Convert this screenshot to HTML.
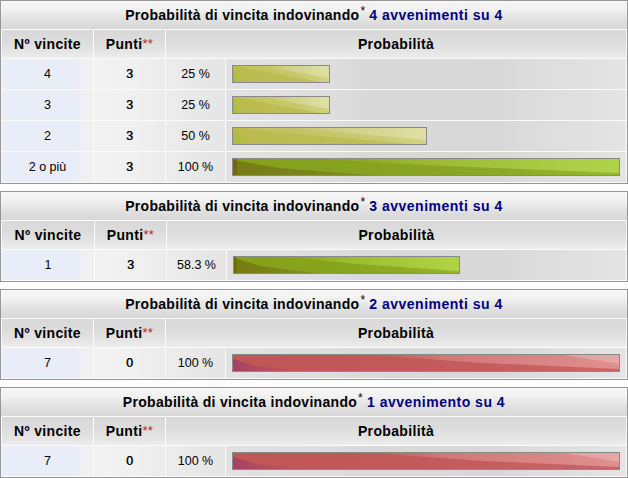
<!DOCTYPE html>
<html><head><meta charset="utf-8"><style>
html,body{margin:0;padding:0;}
body{width:628px;height:478px;position:relative;overflow:hidden;background:#fdfdfd;font-family:"Liberation Sans",sans-serif;}
.tb{position:absolute;left:0;width:626px;border:1px solid #969696;background:#fbfbfb;}
.h1{position:absolute;left:1px;width:626px;height:28px;line-height:29px;text-align:center;font-weight:bold;font-size:14px;color:#000;
  background:linear-gradient(180deg,#fafafa 0px,#f5f5f5 1px,#f2f2f2 8px,#e6e6e6 15px,#dddddd 22px,#d9d9d9 27px,#d6d6d6 28px);letter-spacing:0.3px;}
.h1 sup{font-size:12px;vertical-align:baseline;position:relative;top:-5px;line-height:10px;font-weight:normal;letter-spacing:0;margin-left:1px}
.hl{position:absolute;width:1px;height:28px;background:linear-gradient(180deg,rgba(255,255,255,0.9) 0px,rgba(255,255,255,0.6) 8px,rgba(255,255,255,0) 20px);}
.nv{color:#000080;letter-spacing:0.5px}
.h2{position:absolute;height:28px;line-height:28px;text-align:center;font-weight:bold;font-size:14px;color:#000;
  background:linear-gradient(180deg,#d8d8d8 0px,#dcdcdc 10px,#e3e3e3 20px,#ededed 28px);letter-spacing:0.35px;}
.ast{color:#b02828;font-weight:normal;letter-spacing:0.3px;font-size:13px;position:relative;top:-1px}
.d{position:absolute;height:30px;line-height:30px;text-align:center;font-size:12.5px;color:#000;}
.d b{font-weight:normal;text-shadow:0.5px 0 0 rgba(0,0,0,0.85)}
.c1{background:linear-gradient(90deg,#e9edf8 0px,#e9edf8 73px,#edeff5 77px,#f0f0f1 82px,#f0f0f0 100%);}
.c2{background:linear-gradient(90deg,#f2f2f2 0%,#f0f0f0 60%,#ebebeb 100%);}
.c3{background:linear-gradient(90deg,#ececec 0%,#e5e5e5 100%);}
.c4{background:linear-gradient(90deg,#e2e2e2 0px,#dddddd 110px,#d9d9d9 134px,#d8d8d8 274px,#dcdcdc 304px,#e0e0e0 354px,#e4e4e4 100%);}
.bar{position:absolute;height:16px;border:1px solid #88888e;}
</style></head>
<body>
<div class="tb" style="top:0px;height:182px"></div>
<div class="h1" style="top:1px"><span class="tt">Probabilità di vincita indovinando<sup>*</sup> <span class="nv">4 avvenimenti su 4</span></span></div>
<div class="hl" style="top:1px;left:1px"></div><div class="hl" style="top:1px;left:626px"></div>
<div class="h2" style="top:30px;left:2px;width:91px">Nº vincite</div>
<div class="h2" style="top:30px;left:94px;width:71px">Punti<span class="ast">**</span></div>
<div class="h2" style="top:30px;left:166px;width:460px">Probabilità</div>
<div class="d c1" style="top:59px;left:2px;width:91px">4</div>
<div class="d c2" style="top:59px;left:94px;width:71px"><b>3</b></div>
<div class="d c3" style="top:59px;left:166px;width:59px">25 %</div>
<div class="d c4" style="top:59px;left:226px;width:400px"></div>
<div class="bar" style="top:65px;left:232px;width:96px"><svg width="100%" height="16" viewBox="0 0 100 16" preserveAspectRatio="none" style="display:block"><defs><linearGradient id="b1" x1="0" y1="0" x2="100" y2="0" gradientUnits="userSpaceOnUse">
<stop offset="0" stop-color="#baba4e"/><stop offset="0.7" stop-color="#bebe54"/><stop offset="1" stop-color="#c8c862"/></linearGradient>
<linearGradient id="l1" x1="0" y1="0" x2="100" y2="0" gradientUnits="userSpaceOnUse">
<stop offset="0" stop-color="#fff" stop-opacity="0.10"/><stop offset="0.5" stop-color="#fff" stop-opacity="0.14"/><stop offset="1" stop-color="#fff" stop-opacity="0.2"/></linearGradient>
<linearGradient id="t1" x1="30" y1="0" x2="100" y2="0" gradientUnits="userSpaceOnUse">
<stop offset="0" stop-color="#fff" stop-opacity="0"/><stop offset="0.4" stop-color="#fff" stop-opacity="0.18"/><stop offset="1" stop-color="#fff" stop-opacity="0.3"/></linearGradient>
<linearGradient id="c1" x1="0" y1="0" x2="8" y2="0" gradientUnits="userSpaceOnUse">
<stop offset="0" stop-color="#90c030" stop-opacity="0.55"/><stop offset="0.4" stop-color="#90c030" stop-opacity="0.25"/><stop offset="1" stop-color="#90c030" stop-opacity="0"/></linearGradient></defs><rect width="100" height="16" fill="url(#b1)"/>
<polygon points="3,0 100,0 100,16 92,16 40,7" fill="url(#l1)"/>
<polygon points="30,0 100,0 100,12" fill="url(#t1)"/>
<polygon points="0,4 0,16 10,16" fill="url(#c1)"/></svg></div>
<div class="d c1" style="top:90px;left:2px;width:91px">3</div>
<div class="d c2" style="top:90px;left:94px;width:71px"><b>3</b></div>
<div class="d c3" style="top:90px;left:166px;width:59px">25 %</div>
<div class="d c4" style="top:90px;left:226px;width:400px"></div>
<div class="bar" style="top:96px;left:232px;width:96px"><svg width="100%" height="16" viewBox="0 0 100 16" preserveAspectRatio="none" style="display:block"><defs><linearGradient id="b2" x1="0" y1="0" x2="100" y2="0" gradientUnits="userSpaceOnUse">
<stop offset="0" stop-color="#baba4e"/><stop offset="0.7" stop-color="#bebe54"/><stop offset="1" stop-color="#c8c862"/></linearGradient>
<linearGradient id="l2" x1="0" y1="0" x2="100" y2="0" gradientUnits="userSpaceOnUse">
<stop offset="0" stop-color="#fff" stop-opacity="0.10"/><stop offset="0.5" stop-color="#fff" stop-opacity="0.14"/><stop offset="1" stop-color="#fff" stop-opacity="0.2"/></linearGradient>
<linearGradient id="t2" x1="30" y1="0" x2="100" y2="0" gradientUnits="userSpaceOnUse">
<stop offset="0" stop-color="#fff" stop-opacity="0"/><stop offset="0.4" stop-color="#fff" stop-opacity="0.18"/><stop offset="1" stop-color="#fff" stop-opacity="0.3"/></linearGradient>
<linearGradient id="c2" x1="0" y1="0" x2="8" y2="0" gradientUnits="userSpaceOnUse">
<stop offset="0" stop-color="#90c030" stop-opacity="0.55"/><stop offset="0.4" stop-color="#90c030" stop-opacity="0.25"/><stop offset="1" stop-color="#90c030" stop-opacity="0"/></linearGradient></defs><rect width="100" height="16" fill="url(#b2)"/>
<polygon points="3,0 100,0 100,16 92,16 40,7" fill="url(#l2)"/>
<polygon points="30,0 100,0 100,12" fill="url(#t2)"/>
<polygon points="0,4 0,16 10,16" fill="url(#c2)"/></svg></div>
<div class="d c1" style="top:121px;left:2px;width:91px">2</div>
<div class="d c2" style="top:121px;left:94px;width:71px"><b>3</b></div>
<div class="d c3" style="top:121px;left:166px;width:59px">50 %</div>
<div class="d c4" style="top:121px;left:226px;width:400px"></div>
<div class="bar" style="top:127px;left:232px;width:193px"><svg width="100%" height="16" viewBox="0 0 100 16" preserveAspectRatio="none" style="display:block"><defs><linearGradient id="b3" x1="0" y1="0" x2="100" y2="0" gradientUnits="userSpaceOnUse">
<stop offset="0" stop-color="#baba4e"/><stop offset="0.7" stop-color="#bebe54"/><stop offset="1" stop-color="#c8c862"/></linearGradient>
<linearGradient id="l3" x1="0" y1="0" x2="100" y2="0" gradientUnits="userSpaceOnUse">
<stop offset="0" stop-color="#fff" stop-opacity="0.10"/><stop offset="0.5" stop-color="#fff" stop-opacity="0.14"/><stop offset="1" stop-color="#fff" stop-opacity="0.2"/></linearGradient>
<linearGradient id="t3" x1="30" y1="0" x2="100" y2="0" gradientUnits="userSpaceOnUse">
<stop offset="0" stop-color="#fff" stop-opacity="0"/><stop offset="0.4" stop-color="#fff" stop-opacity="0.18"/><stop offset="1" stop-color="#fff" stop-opacity="0.3"/></linearGradient>
<linearGradient id="c3" x1="0" y1="0" x2="8" y2="0" gradientUnits="userSpaceOnUse">
<stop offset="0" stop-color="#90c030" stop-opacity="0.55"/><stop offset="0.4" stop-color="#90c030" stop-opacity="0.25"/><stop offset="1" stop-color="#90c030" stop-opacity="0"/></linearGradient></defs><rect width="100" height="16" fill="url(#b3)"/>
<polygon points="3,0 100,0 100,16 92,16 40,7" fill="url(#l3)"/>
<polygon points="30,0 100,0 100,12" fill="url(#t3)"/>
<polygon points="0,4 0,16 10,16" fill="url(#c3)"/></svg></div>
<div class="d c1" style="top:152px;left:2px;width:91px">2 o più</div>
<div class="d c2" style="top:152px;left:94px;width:71px"><b>3</b></div>
<div class="d c3" style="top:152px;left:166px;width:59px">100 %</div>
<div class="d c4" style="top:152px;left:226px;width:400px"></div>
<div class="bar" style="top:158px;left:232px;width:386px"><svg width="100%" height="16" viewBox="0 0 100 16" preserveAspectRatio="none" style="display:block"><defs><linearGradient id="b4" x1="0" y1="0" x2="100" y2="0" gradientUnits="userSpaceOnUse">
<stop offset="0" stop-color="#84a01c"/><stop offset="0.5" stop-color="#88a520"/><stop offset="0.8" stop-color="#8eae26"/><stop offset="1" stop-color="#96b830"/></linearGradient>
<linearGradient id="l4" x1="22" y1="0" x2="100" y2="0" gradientUnits="userSpaceOnUse">
<stop offset="0" stop-color="#b4d84c" stop-opacity="0"/><stop offset="0.35" stop-color="#b4d84c" stop-opacity="0.4"/><stop offset="1" stop-color="#b4d84c" stop-opacity="0.85"/></linearGradient>
<linearGradient id="c4" x1="0" y1="0" x2="36" y2="0" gradientUnits="userSpaceOnUse">
<stop offset="0" stop-color="#6a5a0a" stop-opacity="0.55"/><stop offset="0.3" stop-color="#6a5a0a" stop-opacity="0.45"/><stop offset="1" stop-color="#6a5a0a" stop-opacity="0.25"/></linearGradient></defs><rect width="100" height="16" fill="url(#b4)"/>
<polygon points="22,0 100,0 100,14 55,7" fill="url(#l4)"/>
<polygon points="0,1 0,16 37,16 25,13 12,9" fill="url(#c4)"/>
<rect x="0" y="0" width="1" height="16" fill="#6e600e" fill-opacity="0.7"/></svg></div>
<div class="tb" style="top:191px;height:89px"></div>
<div class="h1" style="top:192px"><span class="tt">Probabilità di vincita indovinando<sup>*</sup> <span class="nv">3 avvenimenti su 4</span></span></div>
<div class="hl" style="top:192px;left:1px"></div><div class="hl" style="top:192px;left:626px"></div>
<div class="h2" style="top:221px;left:2px;width:92px">Nº vincite</div>
<div class="h2" style="top:221px;left:95px;width:71px">Punti<span class="ast">**</span></div>
<div class="h2" style="top:221px;left:167px;width:459px">Probabilità</div>
<div class="d c1" style="top:250px;left:2px;width:92px">1</div>
<div class="d c2" style="top:250px;left:95px;width:71px"><b>3</b></div>
<div class="d c3" style="top:250px;left:167px;width:59px">58.3 %</div>
<div class="d c4" style="top:250px;left:227px;width:399px"></div>
<div class="bar" style="top:256px;left:233px;width:225px"><svg width="100%" height="16" viewBox="0 0 100 16" preserveAspectRatio="none" style="display:block"><defs><linearGradient id="b5" x1="0" y1="0" x2="100" y2="0" gradientUnits="userSpaceOnUse">
<stop offset="0" stop-color="#84a01c"/><stop offset="0.5" stop-color="#88a520"/><stop offset="0.8" stop-color="#8eae26"/><stop offset="1" stop-color="#96b830"/></linearGradient>
<linearGradient id="l5" x1="22" y1="0" x2="100" y2="0" gradientUnits="userSpaceOnUse">
<stop offset="0" stop-color="#b4d84c" stop-opacity="0"/><stop offset="0.35" stop-color="#b4d84c" stop-opacity="0.4"/><stop offset="1" stop-color="#b4d84c" stop-opacity="0.85"/></linearGradient>
<linearGradient id="c5" x1="0" y1="0" x2="36" y2="0" gradientUnits="userSpaceOnUse">
<stop offset="0" stop-color="#6a5a0a" stop-opacity="0.55"/><stop offset="0.3" stop-color="#6a5a0a" stop-opacity="0.45"/><stop offset="1" stop-color="#6a5a0a" stop-opacity="0.25"/></linearGradient></defs><rect width="100" height="16" fill="url(#b5)"/>
<polygon points="22,0 100,0 100,14 55,7" fill="url(#l5)"/>
<polygon points="0,1 0,16 37,16 25,13 12,9" fill="url(#c5)"/>
<rect x="0" y="0" width="1" height="16" fill="#6e600e" fill-opacity="0.7"/></svg></div>
<div class="tb" style="top:289px;height:89px"></div>
<div class="h1" style="top:290px"><span class="tt">Probabilità di vincita indovinando<sup>*</sup> <span class="nv">2 avvenimenti su 4</span></span></div>
<div class="hl" style="top:290px;left:1px"></div><div class="hl" style="top:290px;left:626px"></div>
<div class="h2" style="top:319px;left:2px;width:91px">Nº vincite</div>
<div class="h2" style="top:319px;left:94px;width:71px">Punti<span class="ast">**</span></div>
<div class="h2" style="top:319px;left:166px;width:460px">Probabilità</div>
<div class="d c1" style="top:348px;left:2px;width:91px">7</div>
<div class="d c2" style="top:348px;left:94px;width:71px"><b>0</b></div>
<div class="d c3" style="top:348px;left:166px;width:59px">100 %</div>
<div class="d c4" style="top:348px;left:226px;width:400px"></div>
<div class="bar" style="top:354px;left:232px;width:386px"><svg width="100%" height="16" viewBox="0 0 100 16" preserveAspectRatio="none" style="display:block"><defs><linearGradient id="b6" x1="0" y1="0" x2="100" y2="0" gradientUnits="userSpaceOnUse">
<stop offset="0" stop-color="#c05656"/><stop offset="0.5" stop-color="#c25a5a"/><stop offset="1" stop-color="#c86666"/></linearGradient>
<linearGradient id="l6" x1="35" y1="0" x2="100" y2="0" gradientUnits="userSpaceOnUse">
<stop offset="0" stop-color="#eaa0a0" stop-opacity="0"/><stop offset="0.3" stop-color="#eaa0a0" stop-opacity="0.4"/><stop offset="1" stop-color="#eaa0a0" stop-opacity="0.7"/></linearGradient>
<linearGradient id="c6" x1="0" y1="0" x2="16" y2="0" gradientUnits="userSpaceOnUse">
<stop offset="0" stop-color="#7a2a7a" stop-opacity="0.45"/><stop offset="0.4" stop-color="#7a2a7a" stop-opacity="0.22"/><stop offset="1" stop-color="#7a2a7a" stop-opacity="0.06"/></linearGradient></defs><rect width="100" height="16" fill="url(#b6)"/>
<polygon points="35,0 100,0 100,14 65,8" fill="url(#l6)"/>
<polygon points="86,0 100,0 100,9" fill="#fff" fill-opacity="0.22"/>
<polygon points="0,4 0,16 19,16 6,11" fill="url(#c6)"/></svg></div>
<div class="tb" style="top:387px;height:89px"></div>
<div class="h1" style="top:388px"><span class="tt">Probabilità di vincita indovinando<sup>*</sup> <span class="nv">1 avvenimento su 4</span></span></div>
<div class="hl" style="top:388px;left:1px"></div><div class="hl" style="top:388px;left:626px"></div>
<div class="h2" style="top:417px;left:2px;width:91px">Nº vincite</div>
<div class="h2" style="top:417px;left:94px;width:71px">Punti<span class="ast">**</span></div>
<div class="h2" style="top:417px;left:166px;width:460px">Probabilità</div>
<div class="d c1" style="top:446px;left:2px;width:91px">7</div>
<div class="d c2" style="top:446px;left:94px;width:71px"><b>0</b></div>
<div class="d c3" style="top:446px;left:166px;width:59px">100 %</div>
<div class="d c4" style="top:446px;left:226px;width:400px"></div>
<div class="bar" style="top:452px;left:232px;width:386px"><svg width="100%" height="16" viewBox="0 0 100 16" preserveAspectRatio="none" style="display:block"><defs><linearGradient id="b7" x1="0" y1="0" x2="100" y2="0" gradientUnits="userSpaceOnUse">
<stop offset="0" stop-color="#c05656"/><stop offset="0.5" stop-color="#c25a5a"/><stop offset="1" stop-color="#c86666"/></linearGradient>
<linearGradient id="l7" x1="35" y1="0" x2="100" y2="0" gradientUnits="userSpaceOnUse">
<stop offset="0" stop-color="#eaa0a0" stop-opacity="0"/><stop offset="0.3" stop-color="#eaa0a0" stop-opacity="0.4"/><stop offset="1" stop-color="#eaa0a0" stop-opacity="0.7"/></linearGradient>
<linearGradient id="c7" x1="0" y1="0" x2="16" y2="0" gradientUnits="userSpaceOnUse">
<stop offset="0" stop-color="#7a2a7a" stop-opacity="0.45"/><stop offset="0.4" stop-color="#7a2a7a" stop-opacity="0.22"/><stop offset="1" stop-color="#7a2a7a" stop-opacity="0.06"/></linearGradient></defs><rect width="100" height="16" fill="url(#b7)"/>
<polygon points="35,0 100,0 100,14 65,8" fill="url(#l7)"/>
<polygon points="86,0 100,0 100,9" fill="#fff" fill-opacity="0.22"/>
<polygon points="0,4 0,16 19,16 6,11" fill="url(#c7)"/></svg></div>
</body></html>
